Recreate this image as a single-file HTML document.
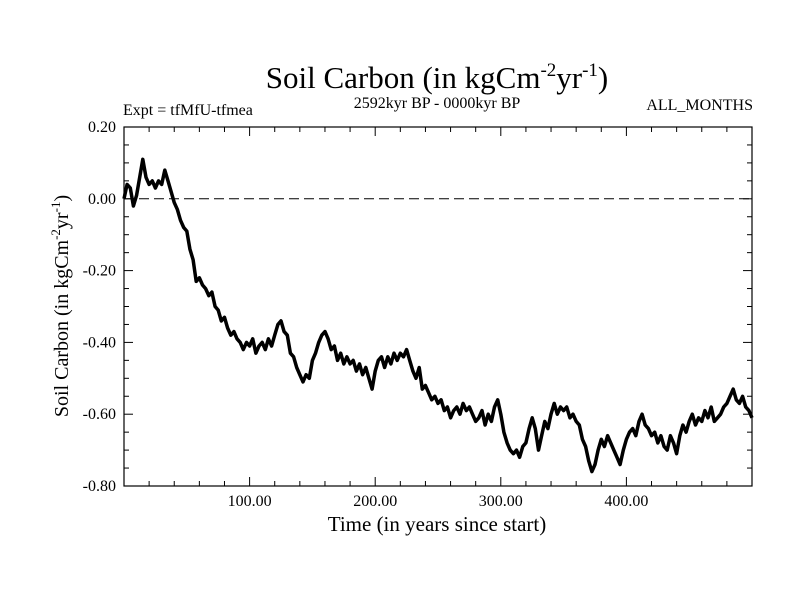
<!DOCTYPE html>
<html><head><meta charset="utf-8"><style>
body{margin:0;background:#fff}
svg{display:block;font-family:"Liberation Serif",serif}
</style></head><body>
<svg id="chart" width="800" height="600" viewBox="0 0 800 600">
<text x="437" y="88" font-size="31" text-anchor="middle">Soil Carbon (in kgCm<tspan dy="-12" font-size="19">-2</tspan><tspan dy="12">yr</tspan><tspan dy="-12" font-size="19">-1</tspan><tspan dy="12">)</tspan></text>
<text x="437" y="108" font-size="16" text-anchor="middle">2592kyr BP - 0000kyr BP</text>
<text x="123" y="115" font-size="16">Expt = tfMfU-tfmea</text>
<text x="753" y="110" font-size="16" text-anchor="end">ALL_MONTHS</text>
<text transform="translate(68,306) rotate(-90)" font-size="20" text-anchor="middle">Soil Carbon (in kgCm<tspan dy="-8" font-size="13">-2</tspan><tspan dy="8">yr</tspan><tspan dy="-8" font-size="13">-1</tspan><tspan dy="8">)</tspan></text>
<text x="437" y="531" font-size="21" text-anchor="middle">Time (in years since start)</text>
<g id="axes"></g>
<g id="series"></g>
<rect x="124" y="127" width="628" height="359" fill="none" stroke="#000" stroke-width="1.2"/>
</svg>
<script>
const xMin = 0, xMax = 500;
const yMin = -0.8, yMax = 0.2;
const xTickValues = [100, 200, 300, 400];
const xTickLabels = ["100.00", "200.00", "300.00", "400.00"];
const yTickValues = [0.2, 0, -0.2, -0.4, -0.6, -0.8];
const yTickLabels = ["0.20", "0.00", "-0.20", "-0.40", "-0.60", "-0.80"];
const timeStep = 2.5;
const soilCarbon = [
0.00,0.04,0.03,-0.02,0.01,0.06,0.11,0.06,0.04,0.05,
0.03,0.05,0.04,0.08,0.05,0.02,-0.01,-0.03,-0.06,-0.08,
-0.09,-0.14,-0.17,-0.23,-0.22,-0.24,-0.25,-0.27,-0.26,-0.30,
-0.31,-0.34,-0.33,-0.36,-0.38,-0.37,-0.39,-0.40,-0.42,-0.40,
-0.41,-0.39,-0.43,-0.41,-0.40,-0.42,-0.39,-0.41,-0.38,-0.35,
-0.34,-0.37,-0.38,-0.43,-0.44,-0.47,-0.49,-0.51,-0.49,-0.50,
-0.45,-0.43,-0.40,-0.38,-0.37,-0.39,-0.42,-0.41,-0.45,-0.43,
-0.46,-0.44,-0.46,-0.45,-0.48,-0.46,-0.49,-0.47,-0.50,-0.53,
-0.48,-0.45,-0.44,-0.47,-0.44,-0.46,-0.43,-0.45,-0.43,-0.44,
-0.42,-0.45,-0.48,-0.50,-0.47,-0.53,-0.52,-0.54,-0.56,-0.55,
-0.57,-0.56,-0.59,-0.58,-0.61,-0.59,-0.58,-0.60,-0.57,-0.59,
-0.58,-0.60,-0.62,-0.61,-0.59,-0.63,-0.60,-0.62,-0.58,-0.56,
-0.60,-0.65,-0.68,-0.70,-0.71,-0.70,-0.72,-0.69,-0.68,-0.64,
-0.61,-0.64,-0.70,-0.66,-0.62,-0.64,-0.60,-0.57,-0.60,-0.58,
-0.59,-0.58,-0.61,-0.60,-0.62,-0.63,-0.67,-0.69,-0.73,-0.76,
-0.74,-0.70,-0.67,-0.69,-0.66,-0.68,-0.70,-0.72,-0.74,-0.70,
-0.67,-0.65,-0.64,-0.66,-0.62,-0.60,-0.63,-0.64,-0.66,-0.65,
-0.68,-0.66,-0.69,-0.70,-0.66,-0.68,-0.71,-0.66,-0.63,-0.65,
-0.62,-0.60,-0.63,-0.61,-0.62,-0.59,-0.61,-0.58,-0.62,-0.61,
-0.60,-0.58,-0.57,-0.55,-0.53,-0.56,-0.57,-0.55,-0.58,-0.59,
-0.61
];
const L = 124, R = 752, T = 127, B = 486;
const NS = "http://www.w3.org/2000/svg";
function sx(v){ return L + (v - xMin) / (xMax - xMin) * (R - L); }
function sy(v){ return T + (yMax - v) / (yMax - yMin) * (B - T); }
function mk(tag, attrs){ const e = document.createElementNS(NS, tag); for (const k in attrs) e.setAttribute(k, attrs[k]); return e; }
const axes = document.getElementById('axes');
for (let v = 20; v < xMax; v += 20) {
  const major = v % 100 === 0;
  const len = major ? 9 : 5;
  const t1 = mk('line', {x1: sx(v), x2: sx(v), y1: B, y2: B - len, stroke: '#000', 'stroke-width': 1});
  
  
  axes.appendChild(t1);
  const t2 = mk('line', {x1: sx(v), x2: sx(v), y1: T, y2: T + len, stroke: '#000', 'stroke-width': 1});
  
  
  axes.appendChild(t2);
}
xTickValues.forEach((v, i) => {
  const t = mk('text', {x: sx(v), y: B + 20, 'font-size': 16, 'text-anchor': 'middle'});
  t.textContent = xTickLabels[i];
  
  
  axes.appendChild(t);
});
for (let k = 0; k <= 20; k++) {
  const v = yMax - k * 0.05;
  const major = k % 4 === 0;
  const len = major ? 9 : 5;
  const t1 = mk('line', {x1: L, x2: L + len, y1: sy(v), y2: sy(v), stroke: '#000', 'stroke-width': 1});
  
  
  axes.appendChild(t1);
  const t2 = mk('line', {x1: R, x2: R - len, y1: sy(v), y2: sy(v), stroke: '#000', 'stroke-width': 1});
  
  
  axes.appendChild(t2);
}
yTickValues.forEach((v, i) => {
  const t = mk('text', {x: L - 8, y: sy(v) + 5, 'font-size': 16, 'text-anchor': 'end'});
  t.textContent = yTickLabels[i];
  
  
  axes.appendChild(t);
});
const zl = mk('line', {x1: L, x2: R, y1: sy(0), y2: sy(0), stroke: '#000', 'stroke-width': 1, 'stroke-dasharray': '10,5'});


axes.appendChild(zl);
const pts = soilCarbon.map((v, i) => sx(i * timeStep).toFixed(1) + ',' + sy(v).toFixed(1)).join(' ');
const pl = mk('polyline', {points: pts, fill: 'none', stroke: '#000', 'stroke-width': 3.5, 'stroke-linejoin': 'round'});


document.getElementById('series').appendChild(pl);
</script>
</body></html>
